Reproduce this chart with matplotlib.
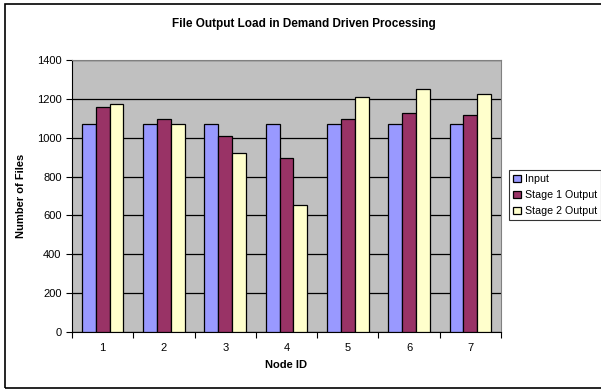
import matplotlib.pyplot as plt
import numpy as np
from matplotlib.patches import Rectangle

plt.rcParams['font.family'] = ['Liberation Sans', 'DejaVu Sans']

nodes = ['1', '2', '3', '4', '5', '6', '7']
input_files = [1072, 1072, 1072, 1072, 1072, 1072, 1072]
stage1_out = [1157, 1098, 1011, 898, 1098, 1129, 1118]
stage2_out = [1175, 1072, 923, 655, 1209, 1250, 1226]

series = [('Input', input_files, '#9999FF'),
          ('Stage 1 Output', stage1_out, '#993366'),
          ('Stage 2 Output', stage2_out, '#FFFFCC')]

fig = plt.figure(figsize=(6.01, 3.90), dpi=100)
# outer chart border
fig.patches.append(Rectangle((5 / 601, 2 / 390), 600 / 601, 384 / 390,
                             transform=fig.transFigure, fill=False,
                             edgecolor='black', linewidth=1.2))

ax = fig.add_axes([72 / 601, 1 - 332 / 390, 429 / 601, 272 / 390])
ax.set_facecolor('#C0C0C0')

x = np.arange(len(nodes))
w = 0.226
for i, (name, vals, col) in enumerate(series):
    ax.bar(x + (i - 1) * w, vals, w, color=col, edgecolor='black',
           linewidth=0.9, label=name, zorder=3)

ax.set_xlim(-0.5, len(nodes) - 0.5)
ax.set_ylim(0, 1400)
ax.set_yticks(range(0, 1401, 200))
ax.yaxis.grid(True, color='black', linewidth=0.9, zorder=1)
ax.set_axisbelow(True)

ax.set_xticks(x)
ax.set_xticklabels(nodes)
ax.set_xticks(np.arange(-0.5, len(nodes), 1), minor=True)
ax.tick_params(axis='x', which='major', length=0, labelsize=8, pad=8)
ax.tick_params(axis='x', which='minor', length=4, direction='out', width=0.8)
ax.tick_params(axis='y', length=4, direction='out', labelsize=8, width=0.8)

for s in ['top', 'right']:
    ax.spines[s].set_color('#808080')
for s in ['left', 'bottom']:
    ax.spines[s].set_color('black')

ax.set_xlabel('Node ID', fontsize=8, fontweight='bold', labelpad=5)
ax.set_ylabel('Number of Files', fontsize=8, fontweight='bold', labelpad=8)
fig.text(304 / 601, 1 - 24 / 390,
         'File Output Load in Demand Driven Processing',
         ha='center', va='center', fontsize=8.5, fontweight='bold')

leg = fig.legend(loc='upper left', bbox_to_anchor=(509 / 601, 1 - 170 / 390),
                 fontsize=7.7, frameon=True, fancybox=False, edgecolor='black',
                 handlelength=0.7, handleheight=0.7, handletextpad=0.35,
                 borderpad=0.4, borderaxespad=0, labelspacing=0.55)
leg.get_frame().set_linewidth(0.8)

fig.savefig('out.png', dpi=100)
